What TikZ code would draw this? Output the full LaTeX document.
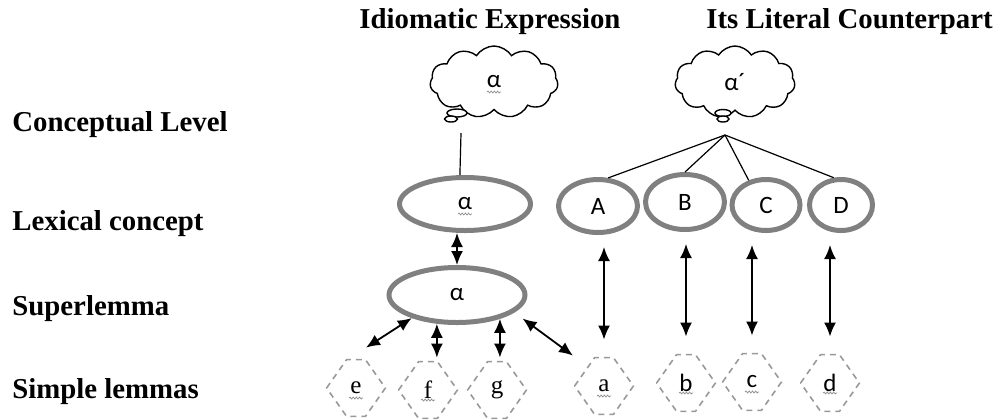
\documentclass[tikz,border=0pt]{standalone}
\usepackage{fontspec}
\setmainfont{Liberation Serif}
\newfontfamily\letterfont{Carlito}
\usetikzlibrary{shapes.geometric,shapes.symbols,arrows.meta,decorations.pathmorphing}
\tikzset{
    level-label/.style = {anchor=base west, inner sep=0pt, font=\bfseries\fontsize{14.4}{16}\selectfont},
    concept-ellipse/.style = {draw=black!50, line width=2.5pt, ellipse, inner sep=0pt, font=\letterfont\fontsize{12.5}{14}\selectfont},
    thought-cloud/.style = {draw, line width=0.7pt, cloud, cloud puffs=11, cloud puff arc=115, cloud ignores aspect, inner sep=0pt, font=\letterfont\fontsize{12.5}{14}\selectfont},
    cloud-bubble/.style = {draw, line width=0.7pt, fill=white},
    lemma-hex/.style = {minimum width=29pt, minimum height=28pt, inner sep=0pt, font=\fontsize{12.5}{14}\selectfont},
    hex-border/.style = {draw=black!40, line width=0.8pt, dash pattern=on 3pt off 2.5pt},
    link-line/.style = {draw, line width=0.6pt},
    both-arrow/.style = {{Latex[length=7pt,width=6pt]}-{Latex[length=7pt,width=6pt]}, line width=0.9pt},
    spell-mark/.style = {draw=black!45, line width=0.35pt, decorate, decoration={snake, amplitude=0.5pt, segment length=1.6pt}},
}

\begin{document}
\begin{tikzpicture}[x=0.5pt, y=-0.5pt]
\useasboundingbox (0,0) rectangle (995,419);

\node[level-label] (idiom-head) at (359,28) {Idiomatic Expression};
\node[level-label] (literal-head) at (706,28) {Its Literal Counterpart};
\node[level-label] (conceptual) at (12,131) {Conceptual Level};
\node[level-label] (lexical) at (12,230) {Lexical concept};
\node[level-label] (superlemma) at (12,315) {Superlemma};
\node[level-label] (simple) at (12,398) {Simple lemmas};

\node[thought-cloud, minimum width=64pt, minimum height=36pt] (cloud-idiom) at (494,82) {α};
\node[thought-cloud, minimum width=60pt, minimum height=36pt] (cloud-literal) at (735,82) {α´};
\draw[cloud-bubble] (457,113) ellipse [x radius=10, y radius=4];
\draw[cloud-bubble] (451,119) ellipse [x radius=6.5, y radius=3];
\draw[cloud-bubble] (723,113) ellipse [x radius=8, y radius=3.5];
\draw[cloud-bubble] (723,119) ellipse [x radius=6, y radius=3];

\node[concept-ellipse, minimum width=65.5pt, minimum height=26.5pt] (lex-alpha) at (465,204) {α};
\node[concept-ellipse, minimum width=68pt, minimum height=27.5pt] (super-alpha) at (457,295) {α};
\node[concept-ellipse, minimum width=39.5pt, minimum height=26.5pt] (lex-A) at (598,206) {A};
\node[concept-ellipse, minimum width=39.5pt, minimum height=27.5pt] (lex-B) at (685,202) {B};
\node[concept-ellipse, minimum width=34pt, minimum height=25.5pt] (lex-C) at (766,205) {C};
\node[concept-ellipse, minimum width=31.5pt, minimum height=25.5pt] (lex-D) at (841,205) {D};

\node[lemma-hex] (hex-e) at (356,388) {e};
\node[lemma-hex] (hex-f) at (428,390) {f};
\node[lemma-hex] (hex-g) at (497,390) {g};
\node[lemma-hex] (hex-a) at (604,386) {a};
\node[lemma-hex, font=\letterfont\fontsize{12.5}{14}\selectfont] (hex-b) at (686,383) {b};
\node[lemma-hex, font=\letterfont\fontsize{12.5}{14}\selectfont] (hex-c) at (752,382) {c};
\node[lemma-hex, font=\letterfont\fontsize{12.5}{14}\selectfont] (hex-d) at (830,383) {d};

\foreach \n in {hex-e,hex-f,hex-g,hex-a,hex-b,hex-c,hex-d}
    \draw[hex-border] (\n.west) -- ([xshift=10]\n.north west) -- ([xshift=-10]\n.north east) -- (\n.east)
        -- ([xshift=-10]\n.south east) -- ([xshift=10]\n.south west) -- cycle;

\foreach \n in {cloud-idiom,lex-alpha,hex-e,hex-f,hex-a,hex-b,hex-c,hex-d}
    \draw[spell-mark] ([shift={(-7,10)}]\n.center) -- ++(14,0);

\coordinate (tail-idiom) at (461,133);
\coordinate (hub) at (725,135);
\draw[link-line] (tail-idiom) -- (lex-alpha.100);
\foreach \n/\a in {A/70,B/90,C/125,D/105}
    \draw[link-line] (hub) -- (lex-\n.\a);

\draw[both-arrow] (super-alpha.north |- lex-alpha.south) -- (super-alpha.north);
\draw[both-arrow] (super-alpha.207) -- ([shift={(10,-12)}]hex-e.north);
\draw[both-arrow, shorten >=2pt] (super-alpha.235) -- (super-alpha.235 |- hex-f.north);
\draw[both-arrow, shorten >=2pt] (super-alpha.-29) -- (super-alpha.-29 |- hex-g.north);
\draw[both-arrow] ([shift={(12,4)}]super-alpha.-20) -- ([shift={(-31,-2)}]hex-a.north);
\foreach \u/\l in {A/a,B/b,C/c,D/d}
    \draw[both-arrow, shorten <=6pt, shorten >=9pt] (hex-\l.north |- lex-\u.south) -- (hex-\l.north);
\end{tikzpicture}
\end{document}
